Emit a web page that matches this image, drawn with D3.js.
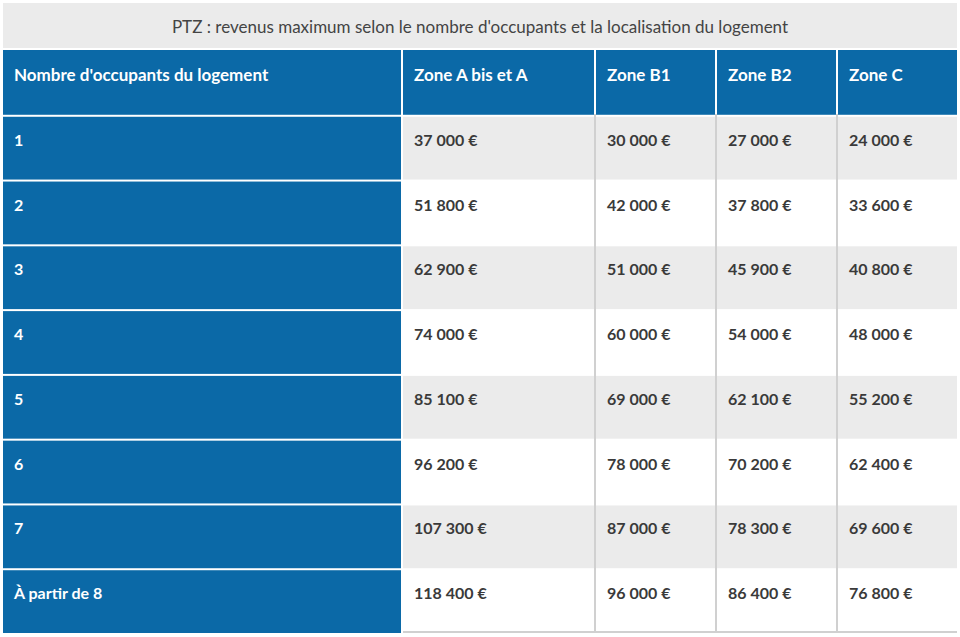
<!DOCTYPE html><html><head><meta charset="utf-8"><script src="https://cdn.jsdelivr.net/npm/d3@7"></script>
<style>body{margin:0;background:#fff}</style></head><body><svg id="c" width="960" height="637"></svg><script>
const title="PTZ : revenus maximum selon le nombre d'occupants et la localisation du logement";
const headers=["Nombre d'occupants du logement","Zone A bis et A","Zone B1","Zone B2","Zone C"];
const occupants=["1","2","3","4","5","6","7","À partir de 8"];
const zoneA=["37 000 €","51 800 €","62 900 €","74 000 €","85 100 €","96 200 €","107 300 €","118 400 €"];
const zoneB1=["30 000 €","42 000 €","51 000 €","60 000 €","69 000 €","78 000 €","87 000 €","96 000 €"];
const zoneB2=["27 000 €","37 800 €","45 900 €","54 000 €","62 100 €","70 200 €","78 300 €","86 400 €"];
const zoneC=["24 000 €","33 600 €","40 800 €","48 000 €","55 200 €","62 400 €","69 600 €","76 800 €"];
const svg=d3.select("#c");
const colEdges=[3,403,596,717,838,957];
const blue="#0b69a7", gray="#ebebeb", font="Lato, 'Open Sans', sans-serif";
svg.append("rect").attr("x",3).attr("y",3).attr("width",954).attr("height",45).attr("fill",gray);
svg.append("text").attr("x",480).attr("y",33).attr("text-anchor","middle").attr("font-family",font).attr("font-size",17).attr("fill","#444").text(title);
const y=d3.scaleBand().domain(d3.range(9)).range([50,633]).paddingInner(0);
const cols=[occupants,zoneA,zoneB1,zoneB2,zoneC];
const g=svg.append("g");
for(let r=0;r<9;r++){
 for(let c=0;c<5;c++){
  const x0=colEdges[c]+(c>0?0:0), x1=colEdges[c+1]-(c<4?2:0);
  const isHead=r===0, isBlue=isHead||c===0;
  const fill=isBlue?blue:((r%2===1)?gray:"#fff");
  const yy=y(r)+(r>0?2:0), hh=y.bandwidth()-(r>0?2:0);
  g.append("rect").attr("x",x0).attr("y",yy).attr("width",x1-x0).attr("height",hh).attr("fill",fill);
  const txt=isHead?headers[c]:cols[c][r-1];
  g.append("text").attr("x",x0+11).attr("y",y(r)+31).attr("font-family",font).attr("font-weight",700)
   .attr("font-size",isHead?17:16).attr("fill",isBlue?"#fff":"#3a3a3a").text(txt);
 }
}
// light separators between data cells
for(let c=1;c<5;c++){
 svg.append("line").attr("x1",colEdges[c+1]-1).attr("x2",colEdges[c+1]-1).attr("y1",114).attr("y2",633).attr("stroke","#d0d0d0").attr("stroke-width",c<4?2:0);
}
svg.append("line").attr("x1",403).attr("x2",957).attr("y1",632).attr("y2",632).attr("stroke","#d0d0d0").attr("stroke-width",2);
</script></body></html>
